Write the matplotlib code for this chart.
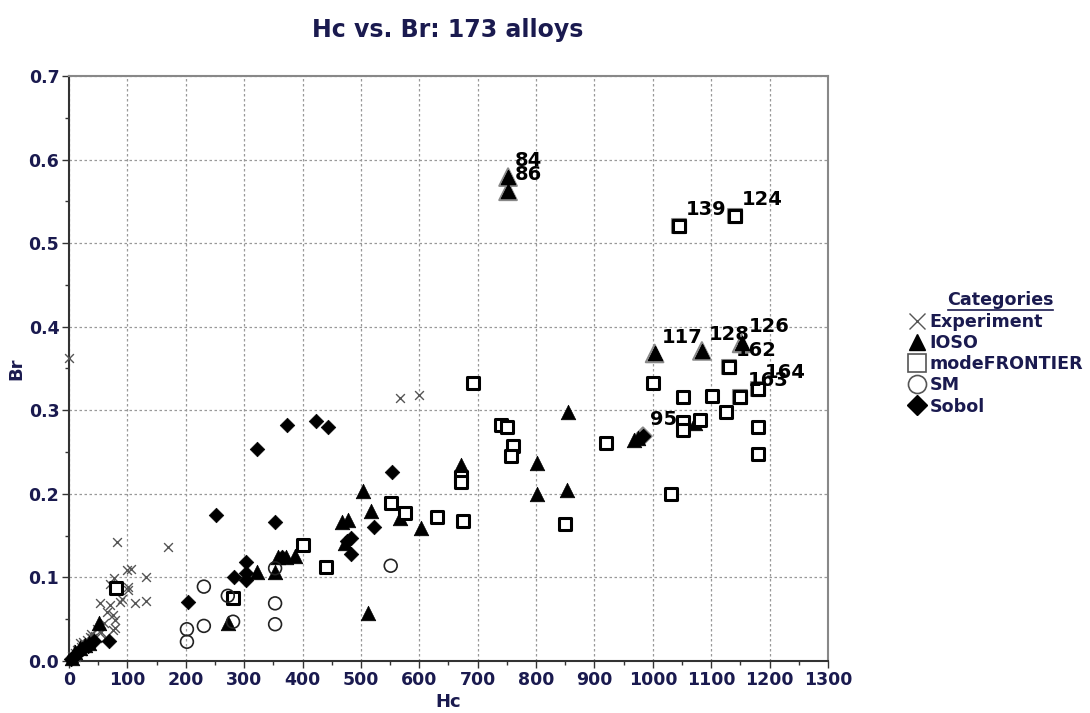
import numpy as np
import matplotlib
matplotlib.use('Agg')
import matplotlib.pyplot as plt
from matplotlib.lines import Line2D
from matplotlib.ticker import MultipleLocator

# values
exp_hc = [0, 567, 600, 82, 170, 99, 106, 132, 77, 70, 101, 101, 53, 70, 87, 91, 113, 132,
          65, 75, 79, 75, 79, 60, 55, 45, 40, 35, 30, 25, 20, 15, 10, 5, 18, 28, 38, 48,
          62, 12, 8, 22, 36, 24, 14]
exp_br = [0.362, 0.315, 0.318, 0.142, 0.136, 0.109, 0.110, 0.100, 0.099, 0.092, 0.089, 0.085,
          0.069, 0.067, 0.071, 0.074, 0.069, 0.072, 0.059, 0.055, 0.049, 0.037, 0.040, 0.045,
          0.035, 0.030, 0.028, 0.022, 0.025, 0.020, 0.017, 0.014, 0.010, 0.006, 0.022, 0.018,
          0.032, 0.038, 0.028, 0.005, 0.003, 0.012, 0.029, 0.023, 0.013]

ioso_hc = [752, 752, 1003, 1084, 1152, 854, 801, 801, 853, 672, 503, 517, 467, 478, 567, 603,
           473, 358, 372, 387, 322, 353, 272, 512, 51, 1072, 968, 975, 27, 10, 18, 35, 5]
ioso_br = [0.579, 0.562, 0.368, 0.371, 0.380, 0.298, 0.237, 0.200, 0.205, 0.234, 0.204, 0.180,
           0.166, 0.169, 0.171, 0.159, 0.141, 0.125, 0.124, 0.126, 0.107, 0.107, 0.045, 0.057,
           0.045, 0.285, 0.265, 0.267, 0.019, 0.011, 0.015, 0.022, 0.004]

mf_hc = [80, 281, 401, 440, 551, 575, 630, 675, 672, 672, 692, 740, 750, 760, 757, 849, 920,
         1031, 1000, 1051, 1101, 1130, 1150, 1180, 1125, 1051, 1051, 1080, 1180, 1180, 1045, 1140]
mf_br = [0.087, 0.075, 0.139, 0.112, 0.189, 0.177, 0.172, 0.168, 0.220, 0.214, 0.333, 0.282,
         0.280, 0.257, 0.245, 0.164, 0.261, 0.200, 0.333, 0.316, 0.317, 0.352, 0.316, 0.325,
         0.298, 0.286, 0.277, 0.288, 0.280, 0.248, 0.520, 0.533]

sm_hc = [231, 272, 353, 353, 353, 281, 231, 202, 202, 551]
sm_br = [0.089, 0.078, 0.111, 0.069, 0.044, 0.047, 0.042, 0.038, 0.023, 0.114]

sobol_hc = [373, 423, 443, 322, 553, 252, 353, 522, 483, 476, 483, 303, 283, 303, 303, 204,
            68, 983, 365, 8, 15, 22, 32, 42, 3]
sobol_br = [0.282, 0.287, 0.280, 0.254, 0.226, 0.175, 0.166, 0.160, 0.147, 0.143, 0.128,
            0.118, 0.100, 0.105, 0.097, 0.071, 0.024, 0.269, 0.125, 0.006, 0.009, 0.014,
            0.018, 0.024, 0.002]

# labelled alloys: name -> (category, index in that category)
labels = {'84': ('IOSO', 0), '86': ('IOSO', 1), '117': ('IOSO', 2), '128': ('IOSO', 3),
          '126': ('IOSO', 4), '95': ('Sobol', 17), '162': ('modeFRONTIER', 21),
          '163': ('modeFRONTIER', 22), '164': ('modeFRONTIER', 23),
          '139': ('modeFRONTIER', 30), '124': ('modeFRONTIER', 31)}

navy = '#1a1a4f'

series = {
    'Experiment': (exp_hc, exp_br, dict(marker='x', s=40, c='#555555', linewidths=1.0)),
    'IOSO': (ioso_hc, ioso_br, dict(marker='^', s=110, c='black', edgecolors='black', linewidths=0.5)),
    'modeFRONTIER': (mf_hc, mf_br, dict(marker='s', s=70, facecolors='white', edgecolors='black', linewidths=2.2)),
    'SM': (sm_hc, sm_br, dict(marker='o', s=85, facecolors='none', edgecolors='#222222', linewidths=1.2)),
    'Sobol': (sobol_hc, sobol_br, dict(marker='D', s=55, c='black', edgecolors='black', linewidths=0.5)),
}

fig = plt.figure(figsize=(10.9, 7.13), dpi=100)
ax = fig.add_axes([69 / 1090, 1 - 661 / 713, (828 - 69) / 1090, (661 - 76) / 713])

for name, (hc, br, kw) in series.items():
    ax.scatter(hc, br, zorder=3, clip_on=False, **kw)

# grey halo around the labelled alloys, then the label
for txt, (cat, i) in labels.items():
    hc, br, kw = series[cat]
    halo = dict(kw)
    halo.update(facecolors='none', edgecolors='#888888', linewidths=1.5, s=kw['s'] * 1.45)
    halo.pop('c', None)
    ax.scatter([hc[i]], [br[i]], zorder=2, **halo)
    ax.scatter([hc[i]], [br[i]], zorder=4, **kw)
    ax.annotate(txt, (hc[i], br[i]), xytext=(5, 5), textcoords='offset points',
                fontsize=14, fontweight='bold', color='black', ha='left', va='bottom', zorder=5)

ax.set_xlim(0, 1300)
ax.set_ylim(0, 0.7)
ax.xaxis.set_major_locator(MultipleLocator(100))
ax.xaxis.set_minor_locator(MultipleLocator(50))
ax.yaxis.set_major_locator(MultipleLocator(0.1))
ax.yaxis.set_minor_locator(MultipleLocator(0.05))
ax.yaxis.set_major_formatter(matplotlib.ticker.FormatStrFormatter('%.1f'))
ax.grid(True, which='major', linestyle=(0, (2, 2)), color='#999999', linewidth=0.9, zorder=0)
ax.set_axisbelow(True)
ax.tick_params(which='major', length=5, width=1, color='#333333', labelsize=12.5,
               labelcolor=navy, pad=2)
ax.tick_params(which='minor', length=3, width=1, color='#333333')
for lab in ax.get_xticklabels() + ax.get_yticklabels():
    lab.set_fontweight('bold')
for sp in ['left', 'bottom']:
    ax.spines[sp].set_color('#333333')
    ax.spines[sp].set_linewidth(1.5)
for sp in ['top', 'right']:
    ax.spines[sp].set_color('#888888')
    ax.spines[sp].set_linewidth(1.5)

ax.set_xlabel('Hc', fontsize=13, fontweight='bold', color=navy, labelpad=3)
ax.set_ylabel('Br', fontsize=13, fontweight='bold', color=navy, labelpad=2)
fig.text(448 / 1090, 1 - 30 / 713, 'Hc vs. Br: 173 alloys', ha='center', va='center',
         fontsize=17, fontweight='bold', color=navy)

# legend outside the plot, title underlined
handles = [
    Line2D([], [], linestyle='none', marker='x', markersize=12, markeredgecolor='#555555', markeredgewidth=1.0),
    Line2D([], [], linestyle='none', marker='^', markersize=12, color='black'),
    Line2D([], [], linestyle='none', marker='s', markersize=13, markerfacecolor='white',
           markeredgecolor='#555555', markeredgewidth=1.2),
    Line2D([], [], linestyle='none', marker='o', markersize=13, markerfacecolor='white',
           markeredgecolor='#555555', markeredgewidth=1.2),
    Line2D([], [], linestyle='none', marker='D', markersize=10, color='black'),
]
leg = fig.legend(handles, list(series.keys()), loc='upper left',
                 bbox_to_anchor=(905 / 1090, 1 - 313 / 713), frameon=False,
                 handletextpad=0.05, labelspacing=0.18, handlelength=1.35, borderpad=0,
                 borderaxespad=0, prop={'weight': 'bold', 'size': 12.6})
for t in leg.get_texts():
    t.set_color(navy)
fig.text(1000 / 1090, 1 - 300 / 713, 'Categories', ha='center', va='center',
         fontsize=12.6, fontweight='bold', color=navy)
fig.add_artist(Line2D([948 / 1090, 1053 / 1090], [1 - 310 / 713, 1 - 310 / 713],
                      color=navy, linewidth=1.2))

fig.savefig('out.png', dpi=100)
